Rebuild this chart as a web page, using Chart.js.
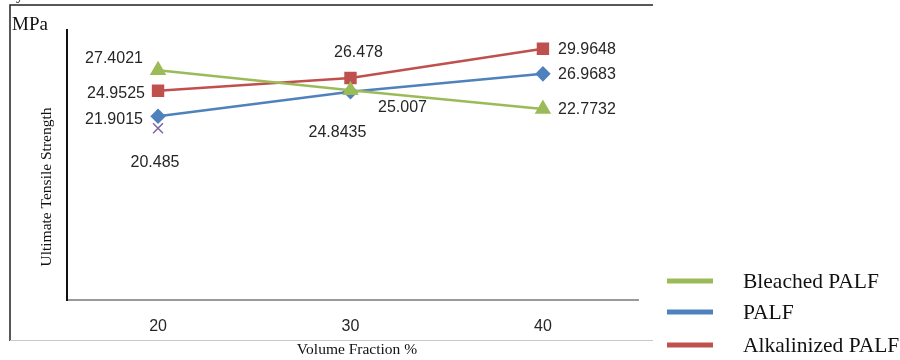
<!DOCTYPE html>
<html>
<head>
<meta charset="utf-8">
<script src="https://cdn.jsdelivr.net/npm/chart.js@4/dist/chart.umd.min.js"></script>
<style>
  html, body { margin: 0; padding: 0; background: #fff; }
  #wrap { width: 900px; height: 360px; position: relative; }
</style>
</head>
<body>
<div id="wrap"><canvas id="c" width="900" height="360"></canvas></div>
<script>
// ---- data ----
const categories = ['20', '30', '40'];
const seriesNames = ['Bleached PALF', 'PALF', 'Alkalinized PALF'];
const bleached = [27.4021, 25.007, 22.7732];
const palf = [21.9015, 24.8435, 26.9683];
const alkalinized = [24.9525, 26.478, 29.9648];
const extraPoint = [20.485, null, null];

const yTitle = 'Ultimate Tensile Strength';
const xTitle = 'Volume Fraction %';
const unitLabel = 'MPa';

const xs = categories.map(Number);
const toPoints = arr => arr.map((v, i) => ({ x: xs[i], y: v }));

// ---- styles ----
const colors = ['#9BBB59', '#4F81BD', '#C0504D', '#8064A2'];
// label offsets (px) relative to each point, per dataset
const labelOffsets = [
  [[-44, -12], [52, 17], [44, 1]],
  [[-44, 3], [-13, 41], [44, 1]],
  [[-42, 3], [8, -25], [44, 1]],
  [[-3, 34], null, null]
];

const labelPlugin = {
  id: 'labels',
  afterDatasetsDraw(chart) {
    const ctx = chart.ctx;
    ctx.save();
    ctx.font = '16px "Liberation Sans", Arial, sans-serif';
    ctx.fillStyle = '#262626';
    ctx.textAlign = 'center';
    ctx.textBaseline = 'middle';
    chart.data.datasets.forEach((ds, di) => {
      const meta = chart.getDatasetMeta(di);
      meta.data.forEach((pt, i) => {
        const d = ds.data[i];
        const off = labelOffsets[di][i];
        if (!d || d.y === null || !off) return;
        ctx.fillText(String(d.y), pt.x + off[0], pt.y + off[1]);
      });
    });
    ctx.restore();
  }
};

const decorPlugin = {
  id: 'decor',
  afterDraw(chart) {
    const ctx = chart.ctx;
    ctx.save();
    // frame
    ctx.strokeStyle = '#222';
    ctx.lineWidth = 1.5;
    ctx.beginPath();
    ctx.moveTo(10, 341); ctx.lineTo(10, 5); ctx.lineTo(653, 5);
    ctx.stroke();
    ctx.strokeStyle = '#c8c8c8';
    ctx.lineWidth = 1;
    ctx.beginPath();
    ctx.moveTo(10, 340.5); ctx.lineTo(653, 340.5);
    ctx.stroke();
    // fragment glyph above frame
    ctx.fillStyle = '#111';
    ctx.font = '16px "Liberation Serif", serif';
    ctx.textAlign = 'left';
    ctx.textBaseline = 'alphabetic';
    ctx.fillText('y', 16, -1);
    // unit
    ctx.font = '19px "Liberation Serif", serif';
    ctx.fillText(unitLabel, 12, 30);
    // y title
    ctx.font = '15.5px "Liberation Serif", serif';
    ctx.save();
    ctx.translate(47, 187);
    ctx.rotate(-Math.PI / 2);
    ctx.textAlign = 'center';
    ctx.textBaseline = 'middle';
    ctx.fillText(yTitle, 0, 0);
    ctx.restore();
    // x title
    ctx.font = '15.5px "Liberation Serif", serif';
    ctx.textAlign = 'center';
    ctx.textBaseline = 'middle';
    ctx.fillText(xTitle, 357, 350);
    // legend
    const ys = [281, 312, 345];
    seriesNames.forEach((name, i) => {
      ctx.strokeStyle = colors[i];
      ctx.lineWidth = 5;
      ctx.beginPath();
      ctx.moveTo(667, ys[i]); ctx.lineTo(713, ys[i]);
      ctx.stroke();
      ctx.fillStyle = '#111';
      ctx.font = '21.5px "Liberation Serif", serif';
      ctx.textAlign = 'left';
      ctx.textBaseline = 'middle';
      ctx.fillText(name, 743, ys[i] + 1);
    });
    ctx.restore();
  }
};

new Chart(document.getElementById('c'), {
  type: 'line',
  data: {
    datasets: [
      { label: seriesNames[0], data: toPoints(bleached), borderColor: colors[0], backgroundColor: colors[0],
        borderWidth: 2.5, pointStyle: 'triangle', pointRadius: 7, pointHoverRadius: 7 },
      { label: seriesNames[1], data: toPoints(palf), borderColor: colors[1], backgroundColor: colors[1],
        borderWidth: 2.5, pointStyle: 'rectRot', pointRadius: 6, pointHoverRadius: 6 },
      { label: seriesNames[2], data: toPoints(alkalinized), borderColor: colors[2], backgroundColor: colors[2],
        borderWidth: 2.5, pointStyle: 'rect', pointRadius: 7, pointHoverRadius: 7 },
      { label: 'extra', data: toPoints(extraPoint), borderColor: colors[3], backgroundColor: colors[3],
        borderWidth: 1.5, showLine: false, pointStyle: 'crossRot', pointRadius: 7, pointBorderWidth: 1.5 }
    ]
  },
  options: {
    responsive: false,
    animation: false,
    events: [],
    layout: { padding: { left: 0, right: 262, top: 30, bottom: 0 } },
    plugins: { legend: { display: false }, tooltip: { enabled: false } },
    scales: {
      x: {
        type: 'linear',
        min: 15.27, max: 44.94,
        afterBuildTicks(scale) { scale.ticks = xs.map(v => ({ value: v })); },
        grid: { display: true, drawOnChartArea: false, drawTicks: false },
        border: { display: true, color: '#9a9a9a', width: 2 },
        ticks: { color: '#262626', font: { family: '"Liberation Sans", Arial, sans-serif', size: 16 }, padding: 17,
                 callback: (v) => categories[xs.indexOf(v)] },
        afterFit(scale) { scale.height = 60; }
      },
      y: {
        min: 0, max: 32.2,
        grid: { display: true, drawOnChartArea: false, drawTicks: false },
        border: { display: true, color: '#111', width: 2 },
        ticks: { display: false },
        afterFit(scale) { scale.width = 67; }
      }
    }
  },
  plugins: [labelPlugin, decorPlugin]
});
</script>
</body>
</html>
